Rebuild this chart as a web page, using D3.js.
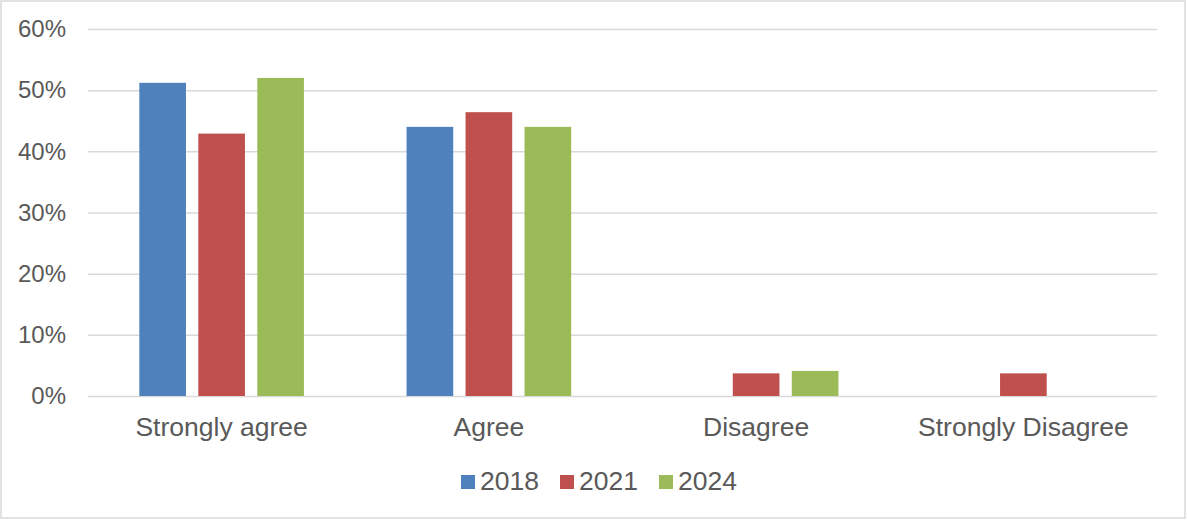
<!DOCTYPE html>
<html>
<head>
<meta charset="utf-8">
<script src="https://cdn.jsdelivr.net/npm/d3@7"></script>
<style>
  body { margin: 0; background: #fff; }
  text { font-family: "Liberation Sans", Arial, sans-serif; fill: #595959; }
</style>
</head>
<body>
<svg id="chart"></svg>
<script>
// data
const categories = ["Strongly agree", "Agree", "Disagree", "Strongly Disagree"];
const years = ["2018", "2021", "2024"];
const values2018 = [51.2, 44.0, 0, 0];
const values2021 = [42.9, 46.4, 3.7, 3.7];
const values2024 = [52.0, 44.0, 4.1, 0];
const yTicks = [0, 10, 20, 30, 40, 50, 60];
const colors = ["#4f81bd", "#c0504d", "#9bbb59"];

const width = 1187, height = 520;
const margin = {top: 29, right: 30, bottom: 124, left: 88};

let svg = d3.select("#chart")
    .attr("width", width)
    .attr("height", height);

// outer frame
svg.append("rect")
    .attr("x", 1).attr("y", 1)
    .attr("width", width - 3).attr("height", height - 3)
    .style("fill", "none")
    .style("stroke", "#d9d9d9")
    .style("stroke-width", 1.5);

let x = d3.scaleBand()
    .domain(categories)
    .range([margin.left, width - margin.right]);

let xInner = d3.scaleBand()
    .domain(years)
    .range([0, x.bandwidth()])
    .paddingInner(0.209)
    .paddingOuter(0.87);

let y = d3.scaleLinear()
    .domain([0, 60])
    .range([height - margin.bottom, margin.top]);

// gridlines + y labels
let yAxis = d3.axisLeft(y)
    .tickValues(yTicks)
    .tickSize(-(width - margin.left - margin.right))
    .tickPadding(22)
    .tickFormat(d => d + "%");

let gy = svg.append("g")
    .attr("transform", "translate(" + margin.left + ",0)")
    .call(yAxis);
gy.select(".domain").remove();
gy.selectAll(".tick line")
    .style("stroke", "#d9d9d9")
    .style("stroke-width", 1.5);
gy.selectAll(".tick text")
    .style("font-size", "24px")
    .style("fill", "#595959");

// bars
let series = years.map((yr, i) => ({
    year: yr,
    color: colors[i],
    values: [values2018, values2021, values2024][i]
}));

series.forEach(function (s) {
    svg.append("g")
        .selectAll("rect")
        .data(categories.map((c, j) => ({cat: c, v: s.values[j]})).filter(d => d.v > 0))
        .join("rect")
        .attr("x", d => x(d.cat) + xInner(s.year))
        .attr("y", d => y(d.v))
        .attr("width", xInner.bandwidth())
        .attr("height", d => y(0) - y(d.v))
        .style("fill", s.color);
});

// category labels
svg.append("g")
    .selectAll("text")
    .data(categories)
    .join("text")
    .attr("x", d => x(d) + x.bandwidth() / 2)
    .attr("y", 436)
    .attr("text-anchor", "middle")
    .style("font-size", "26.5px")
    .text(d => d);

// legend
let legend = svg.append("g")
    .selectAll("g")
    .data(series)
    .join("g")
    .attr("transform", (d, i) => "translate(" + (461 + i * 99) + ",475)");

legend.append("rect")
    .attr("width", 14)
    .attr("height", 14)
    .style("fill", d => d.color);

legend.append("text")
    .attr("x", 19)
    .attr("y", 15)
    .style("font-size", "26.5px")
    .text(d => d.year);
</script>
</body>
</html>
